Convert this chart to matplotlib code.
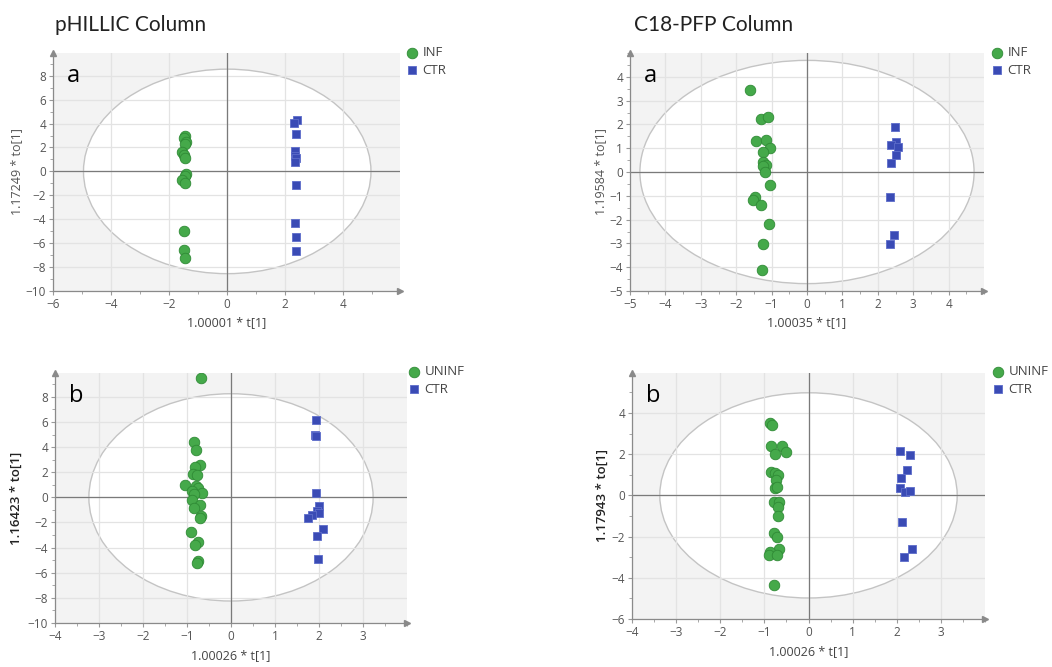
import numpy as np
import matplotlib.pyplot as plt
from matplotlib.patches import Ellipse
from matplotlib.ticker import MultipleLocator

# pHILLIC column, panel a (INF vs CTR)
inf1_x = [-1.45, -1.48, -1.42, -1.45, -1.55, -1.48, -1.47, -1.42, -1.45, -1.55, -1.45, -1.50, -1.50, -1.47]
inf1_y = [3.0, 2.8, 2.5, 2.3, 1.6, 1.4, 1.1, -0.25, -0.4, -0.7, -1.0, -5.0, -6.55, -7.25]
ctr1_x = [2.39, 2.31, 2.36, 2.34, 2.33, 2.36, 2.33, 2.36, 2.33, 2.36, 2.36]
ctr1_y = [4.28, 4.06, 3.1, 1.72, 1.3, 1.1, 0.82, -1.15, -4.34, -5.52, -6.68]

# C18-PFP column, panel a (INF vs CTR)
inf2_x = [-1.60, -1.31, -1.10, -1.45, -1.16, -1.04, -1.23, -1.25, -1.16, -1.23, -1.19,
          -1.04, -1.48, -1.53, -1.30, -1.08, -1.23, -1.28]
inf2_y = [3.43, 2.24, 2.31, 1.30, 1.33, 1.01, 0.85, 0.43, 0.31, 0.24, 0.0,
          -0.55, -1.04, -1.16, -1.37, -2.18, -3.03, -4.10]
ctr2_x = [2.49, 2.50, 2.38, 2.58, 2.52, 2.38, 2.34, 2.45, 2.34]
ctr2_y = [1.88, 1.26, 1.15, 1.04, 0.70, 0.38, -1.05, -2.66, -3.03]

# pHILLIC column, panel b (UNINF vs CTR)
uninf3_x = [-0.69, -0.83, -0.80, -0.70, -0.81, -0.86, -0.77, -1.04, -0.80, -0.75, -0.89, -0.67,
            -0.83, -0.89, -0.71, -0.83, -0.68, -0.71, -0.91, -0.75, -0.81, -0.74, -0.77]
uninf3_y = [9.52, 4.42, 3.81, 2.57, 2.38, 1.90, 1.75, 0.95, 0.90, 0.71, 0.53, 0.32,
            0.26, -0.21, -0.61, -0.87, -1.46, -1.67, -2.78, -3.52, -3.81, -5.05, -5.24]
ctr3_x = [1.93, 1.90, 1.93, 1.93, 1.99, 1.96, 2.00, 1.85, 1.74, 2.08, 1.96, 1.98]
ctr3_y = [6.14, 5.0, 4.87, 0.37, -0.69, -1.06, -1.22, -1.43, -1.61, -2.51, -3.04, -4.89]

# C18-PFP column, panel b (UNINF vs CTR)
uninf4_x = [-0.87, -0.83, -0.86, -0.59, -0.51, -0.76, -0.86, -0.76, -0.70, -0.73, -0.76, -0.72,
            -0.79, -0.67, -0.68, -0.70, -0.79, -0.72, -0.67, -0.87, -0.89, -0.72, -0.79]
uninf4_y = [3.52, 3.44, 2.39, 2.39, 2.10, 2.03, 1.13, 1.11, 0.98, 0.74, 0.37, 0.42,
            -0.31, -0.31, -0.58, -0.98, -1.81, -2.03, -2.61, -2.77, -2.90, -2.87, -4.35]
ctr4_x = [2.07, 2.31, 2.23, 2.10, 2.07, 2.18, 2.29, 2.12, 2.35, 2.17]
ctr4_y = [2.16, 1.95, 1.23, 0.82, 0.34, 0.15, 0.21, -1.29, -2.60, -2.97]

GREEN = '#45a94a'
GREEN_EDGE = '#2f8a35'
BLUE = '#3a4bb5'
BLUE_EDGE = '#5d6dca'
TICK_COLOR = '#555555'

plt.rcParams['font.family'] = ['Open Sans', 'DejaVu Sans']

fig = plt.figure(figsize=(10.52, 6.67), dpi=100)


def draw_panel(rect, gx, gy, bx, by, glabel, letter, xlim, ylim, xticks, yticks,
               xminor, yminor, ell_w, ell_h, xlabel, ylabel, ylab_bold, ylab_x, leg_pos):
    ax = fig.add_axes(rect)
    ax.set_facecolor('#f3f3f3')
    ax.add_patch(Ellipse((0, 0), 2 * ell_w, 2 * ell_h, facecolor='white',
                         edgecolor='#c4c4c4', lw=1.0, zorder=0.2))
    ax.set_axisbelow(True)
    ax.grid(True, color='#e3e3e3', lw=0.9)
    ax.axhline(0, color='#7a7a7a', lw=0.9, zorder=1)
    ax.axvline(0, color='#7a7a7a', lw=0.9, zorder=1)

    ax.scatter(gx, gy, s=58, c=GREEN, edgecolors=GREEN_EDGE, linewidths=0.6,
               marker='o', zorder=3, label=glabel)
    ax.scatter(bx, by, s=40, c=BLUE, edgecolors=BLUE_EDGE, linewidths=0.6,
               marker='s', zorder=3, label='CTR')

    ax.set_xlim(*xlim)
    ax.set_ylim(*ylim)
    ax.set_xticks(xticks)
    ax.set_yticks(yticks)
    ax.xaxis.set_minor_locator(MultipleLocator(xminor))
    ax.yaxis.set_minor_locator(MultipleLocator(yminor))
    ax.tick_params(which='both', colors='#9a9a9a', labelcolor=TICK_COLOR, labelsize=8.5,
                   direction='out')
    ax.tick_params(which='major', length=3, pad=2)
    ax.tick_params(which='minor', length=2)
    for s in ['top', 'right']:
        ax.spines[s].set_visible(False)
    for s in ['left', 'bottom']:
        ax.spines[s].set_color('#8a8a8a')
        ax.spines[s].set_linewidth(0.9)

    # axis arrows
    ax.plot(0, 1, marker='^', color='#8a8a8a', ms=5, transform=ax.transAxes, clip_on=False)
    ax.plot(1, 0, marker='>', color='#8a8a8a', ms=5, transform=ax.transAxes, clip_on=False)

    ax.set_xlabel(xlabel, fontsize=9, color='#444444')
    ax.xaxis.set_label_coords(0.5, -0.105)
    ax.set_ylabel(ylabel, fontsize=9.5 if ylab_bold else 9,
                  color='#222222' if ylab_bold else '#555555',
                  fontweight='semibold' if ylab_bold else 'normal')
    ax.yaxis.set_label_coords(ylab_x, 0.5)

    ax.text(0.04, 0.955, letter, transform=ax.transAxes, fontsize=17, va='top',
            ha='left', color='black')

    ax.legend(loc='upper left', bbox_to_anchor=leg_pos, bbox_transform=fig.transFigure,
              frameon=False, fontsize=9.5, handletextpad=0.2, labelspacing=0.35,
              borderpad=0, borderaxespad=0, handlelength=1.2, markerscale=1.0,
              labelcolor='#444444')
    return ax


W, H = 1052.0, 667.0


def rect_px(left, top, right, bottom):
    return [left / W, 1 - bottom / H, (right - left) / W, (bottom - top) / H]


draw_panel(rect_px(53, 53, 400, 291), inf1_x, inf1_y, ctr1_x, ctr1_y, 'INF', 'a',
           (-6, 5.95), (-10, 9.9), [-6, -4, -2, 0, 2, 4], list(range(-10, 9, 2)),
           1, 1, 4.95, 8.55, '1.00001 * t[1]', '1.17249 * to[1]', False, -0.086,
           (404 / W, 1 - 46 / H))

draw_panel(rect_px(630, 53, 984, 291), inf2_x, inf2_y, ctr2_x, ctr2_y, 'INF', 'a',
           (-5, 5.0), (-5, 5.0), list(range(-5, 5)), list(range(-5, 5)),
           0.5, 0.5, 4.72, 4.69, '1.00035 * t[1]', '1.19584 * to[1]', False, -0.065,
           (989 / W, 1 - 46 / H))

draw_panel(rect_px(55, 373, 407, 623), uninf3_x, uninf3_y, ctr3_x, ctr3_y, 'UNINF', 'b',
           (-4, 4.0), (-10, 9.9), list(range(-4, 4)), list(range(-10, 9, 2)),
           0.5, 1, 3.23, 8.25, '1.00026 * t[1]', '1.16423 * to[1]', True, -0.091,
           (406 / W, 1 - 365 / H))

draw_panel(rect_px(632, 373, 985, 619), uninf4_x, uninf4_y, ctr4_x, ctr4_y, 'UNINF', 'b',
           (-4, 4.0), (-6, 5.94), list(range(-4, 4)), list(range(-6, 5, 2)),
           0.5, 1, 3.37, 4.98, '1.00026 * t[1]', '1.17943 * to[1]', True, -0.067,
           (990 / W, 1 - 365 / H))

fig.text(55 / W, 1 - 31 / H, 'pHILLIC Column', fontsize=15, family=['Lato', 'DejaVu Sans'],
         ha='left', va='baseline', color='#222222')
fig.text(634 / W, 1 - 31 / H, 'C18-PFP Column', fontsize=15, family=['Lato', 'DejaVu Sans'],
         ha='left', va='baseline', color='#222222')

fig.savefig('out.png', dpi=100)
